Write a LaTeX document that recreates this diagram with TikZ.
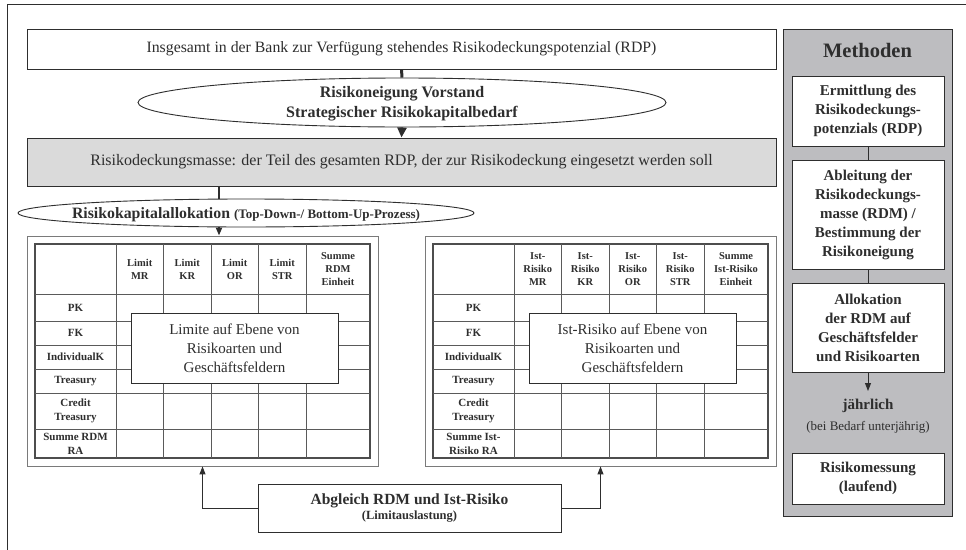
\documentclass[tikz,border=0pt]{standalone}
\usepackage{fontspec}
\setmainfont{Liberation Serif}
\usetikzlibrary{shapes.geometric,arrows.meta}

\definecolor{ink}{HTML}{2E2E2E}
\definecolor{panel}{HTML}{DADADA}
\definecolor{methfill}{HTML}{BDBDC0}
\definecolor{gridline}{HTML}{5A5A5A}
\definecolor{frameline}{HTML}{7A7A7A}

\tikzset{
  frame/.style={draw=ink, line width=0.9pt, fill=white, inner sep=2pt, text=ink},
  oval/.style={ellipse, draw=ink, line width=0.9pt, fill=white, inner sep=0pt, text=ink},
  cell/.style={draw=gridline, line width=0.8pt},
  tabframe/.style={draw=frameline, line width=0.8pt},
  tabborder/.style={draw=ink!85, line width=2.6pt},
  hdr/.style={inner sep=0pt, text=ink, align=center, font=\fontsize{10.5}{13}\selectfont\bfseries},
  rowlab/.style={inner sep=0pt, text=ink, align=center, font=\fontsize{11}{14}\selectfont\bfseries},
  overlay/.style={frame, align=center, font=\fontsize{15}{19}\selectfont},
  methbox/.style={frame, align=center, minimum width=152pt, font=\fontsize{15}{19}\selectfont\bfseries},
  tip/.style={-{Triangle[width=6pt,length=8pt]}},
  bigtip/.style={-{Triangle[width=9pt,length=10pt]}},
}

\begin{document}
\begin{tikzpicture}[x=1pt,y=-1pt]
\useasboundingbox (0,0) rectangle (966,549);

% outer page frame (open to the right and bottom)
\draw[ink, line width=1pt] (7,560) -- (7,4) -- (975,4);

% ---------- main flow ----------
\node[frame, minimum width=749pt, minimum height=40pt, font=\fontsize{15.8}{18}\selectfont]
  (rdp) at (401.5,49) {Insgesamt in der Bank zur Verfügung stehendes Risikodeckungspotenzial (RDP)};

% label boxes are given zero size so the ellipses keep their set extent;
% the node centre then lies on the label's last baseline
\node[oval, minimum width=528pt, minimum height=49pt,
      font=\fontsize{16}{20}\selectfont\bfseries]
  (neigung) at (402,102.5) {\makebox[0pt]{\raisebox{-15pt}[0pt][0pt]{\shortstack{Risikoneigung Vorstand\\[2pt]Strategischer Risikokapitalbedarf}}}};

\node[frame, fill=panel, minimum width=749pt, minimum height=48pt, font=\fontsize{16}{18}\selectfont]
  (rdm) at (401.5,162) {Risikodeckungsmasse: der Teil des gesamten RDP, der zur Risikodeckung eingesetzt werden soll};

\node[oval, minimum width=456pt, minimum height=28pt]
  (alloc) at (246,213) {\makebox[0pt]{\raisebox{-5.5pt}[0pt][0pt]{\fontsize{15.8}{18}\selectfont\bfseries Risikokapitalallokation
  \fontsize{13}{15}\selectfont (Top-Down-/ Bottom-Up-Prozess)}}};

\draw[ink, line width=3pt] (rdp.south) -- (neigung.north);
\draw[ink, line width=3pt, bigtip] (neigung.south) -- (rdm.north);

\coordinate (allocx) at (219,0);
\draw[ink, line width=2pt] (rdm.south -| allocx) -- (alloc.north -| allocx);

% ---------- left table: limits ----------
\node[tabframe, minimum width=351pt, minimum height=230pt, inner sep=0pt] (tabL) at (202.5,351) {};
\draw[tabborder] (35,244) rectangle (370,458);
\foreach \y in {294,321,345,369,393,429} \draw[cell] (35,\y) -- (370,\y);
\foreach \x in {116,163.5,211,258.5,306} \draw[cell] (\x,244) -- (\x,458);

\node[hdr] (lh1) at (139.75,269) {Limit\\MR};
\node[hdr] (lh2) at (187.25,269) {Limit\\KR};
\node[hdr] (lh3) at (234.75,269) {Limit\\OR};
\node[hdr] (lh4) at (282.25,269) {Limit\\STR};
\node[hdr] (lh5) at (338,269) {Summe\\RDM\\Einheit};

\node[rowlab] (lr1) at (75.5,307.5) {PK};
\node[rowlab] (lr2) at (75.5,333) {FK};
\node[rowlab] (lr3) at (75.5,357) {IndividualK};
\node[rowlab] (lr4) at (75.5,381) {Treasury};
\node[rowlab] (lr5) at (75.5,411) {Credit\\Treasury};
\node[rowlab] (lr6) at (75.5,443.5) {Summe RDM\\RA};

\node[overlay, minimum width=207pt, minimum height=70pt] (limL) at (234.5,348)
  {Limite auf Ebene von\\Risikoarten und\\Geschäftsfeldern};

\draw[ink, line width=2pt, tip] (alloc.south -| allocx) -- (tabL.north -| allocx);

% ---------- right table: actual risk ----------
\node[tabframe, minimum width=351pt, minimum height=230pt, inner sep=0pt] (tabR) at (600.5,351) {};
\draw[tabborder] (433,244) rectangle (768,458);
\foreach \y in {294,321,345,369,393,429} \draw[cell] (433,\y) -- (768,\y);
\foreach \x in {514,561.5,609,656.5,704} \draw[cell] (\x,244) -- (\x,458);

\node[hdr] (rh1) at (537.75,269) {Ist-\\Risiko\\MR};
\node[hdr] (rh2) at (585.25,269) {Ist-\\Risiko\\KR};
\node[hdr] (rh3) at (632.75,269) {Ist-\\Risiko\\OR};
\node[hdr] (rh4) at (680.25,269) {Ist-\\Risiko\\STR};
\node[hdr] (rh5) at (736,269) {Summe\\Ist-Risiko\\Einheit};

\node[rowlab] (rr1) at (473.5,307.5) {PK};
\node[rowlab] (rr2) at (473.5,333) {FK};
\node[rowlab] (rr3) at (473.5,357) {IndividualK};
\node[rowlab] (rr4) at (473.5,381) {Treasury};
\node[rowlab] (rr5) at (473.5,411) {Credit\\Treasury};
\node[rowlab] (rr6) at (473.5,443.5) {Summe Ist-\\Risiko RA};

\node[overlay, minimum width=207pt, minimum height=70pt] (istR) at (632.5,348)
  {Ist-Risiko auf Ebene von\\Risikoarten und\\Geschäftsfeldern};

% ---------- comparison ----------
\node[frame, minimum width=303pt, minimum height=48pt, align=center] (abgl) at (409.5,508)
  {\fontsize{15.5}{19}\selectfont\bfseries Abgleich RDM und Ist-Risiko\\[2pt]
   \fontsize{12.5}{14}\selectfont\bfseries (Limitauslastung)};
\draw[ink, line width=0.9pt, tip] (abgl.west) -| (tabL.south);
\draw[ink, line width=0.9pt, tip] (abgl.east) -| (tabR.south);

% ---------- methods column ----------
\node[draw=ink, line width=0.9pt, fill=methfill, minimum width=169pt, minimum height=487pt,
      inner sep=0pt] (meth) at (867.5,272.5) {};
\node[inner sep=0pt, text=ink, font=\fontsize{20.5}{24}\selectfont\bfseries] (methT) at (867.5,50) {Methoden};

\node[methbox, minimum height=70pt] (m1) at (868,111)
  {Ermittlung des\\Risikodeckungs-\\potenzials (RDP)};
\node[methbox, minimum height=109pt] (m2) at (868,214.5)
  {Ableitung der\\Risikodeckungs-\\masse (RDM) /\\Bestimmung der\\Risikoneigung};
\node[methbox, minimum height=89pt] (m3) at (868,327.5)
  {Allokation\\der RDM auf\\Geschäftsfelder\\und Risikoarten};
\node[inner sep=0pt, text=ink, anchor=north, text height=18pt, text depth=4pt,
      font=\fontsize{15}{18}\selectfont\bfseries] (jahr) at (868,391) {jährlich};
\node[inner sep=0pt, text=ink, font=\fontsize{13}{16}\selectfont] (bei) at (868,427) {(bei Bedarf unterjährig)};
\node[methbox, minimum height=51pt] (m4) at (868,478.5)
  {Risikomessung\\(laufend)};

\draw[ink, line width=0.9pt] (m1.south) -- (m2.north);
\draw[ink, line width=0.9pt] (m2.south) -- (m3.north);
\draw[ink, line width=0.9pt, tip] (m3.south) -- (jahr.north);
\end{tikzpicture}
\end{document}
